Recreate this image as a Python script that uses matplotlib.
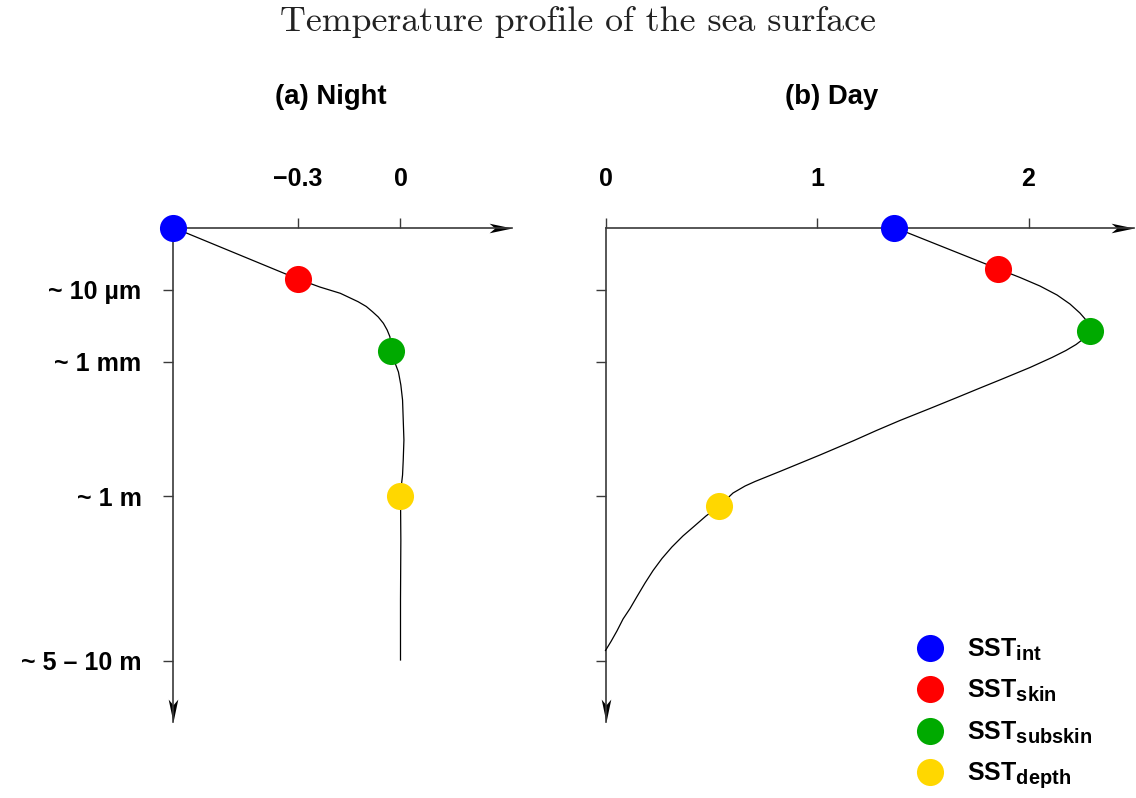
import numpy as np
import matplotlib.pyplot as plt
from matplotlib.path import Path
from matplotlib.markers import MarkerStyle
import matplotlib._mathtext as mathtext_internal

plt.rcParams['font.family'] = ['Liberation Sans', 'DejaVu Sans']
plt.rcParams['font.weight'] = 'bold'
plt.rcParams['mathtext.fontset'] = 'custom'
plt.rcParams['mathtext.rm'] = 'Liberation Sans:bold'
plt.rcParams['mathtext.it'] = 'Liberation Sans:bold'
plt.rcParams['mathtext.bf'] = 'Liberation Sans:bold'
# slightly larger subscripts than the mathtext default
mathtext_internal.SHRINK_FACTOR = 0.8

# depth axis (schematic, not to scale)
depth_ticks = [0.62, 1.34, 2.685, 4.33]
depth_labels = ['~ 10 µm', '~ 1 mm', '~ 1 m', '~ 5 – 10 m']

names = [r'SST$_{\mathrm{int}}$', r'SST$_{\mathrm{skin}}$',
         r'SST$_{\mathrm{subskin}}$', r'SST$_{\mathrm{depth}}$']
colors = ['#0000ff', '#ff0000', '#00aa00', '#ffd700']

# (a) Night: temperature anomaly of each level
night_x = [-0.665, -0.30, -0.029, 0.0]
night_y = [0.0, 0.515, 1.238, 2.685]
night_curve_x = [-0.665, -0.30, -0.236, -0.176, -0.124, -0.100, -0.082, -0.065, -0.050,
                 -0.039, -0.031, -0.029, -0.029, -0.017, -0.006, 0.001, 0.006, 0.008,
                 0.010, 0.008, 0.006, 0.002, 0.0, 0.001, 0.0, 0.0]
night_curve_y = [0.0, 0.515, 0.595, 0.658, 0.742, 0.790, 0.842, 0.895, 0.958,
                 1.025, 1.092, 1.165, 1.238, 1.345, 1.445, 1.575, 1.725, 1.925,
                 2.125, 2.325, 2.475, 2.595, 2.685, 3.125, 3.725, 4.325]
night_ticks = [-0.3, 0]
night_ticklabels = ['\u22120.3', '0']

# (b) Day
day_x = [1.366, 1.854, 2.291, 0.538]
day_y = [0.0, 0.412, 1.032, 2.785]
day_curve_x = [1.366, 1.854, 1.960, 2.054, 2.135, 2.196, 2.243, 2.272, 2.286, 2.291,
               2.262, 2.225, 2.177, 2.111, 2.007, 1.870, 1.771, 1.662, 1.534, 1.392,
               1.281, 1.175, 1.014, 0.830, 0.707, 0.660, 0.603, 0.538, 0.475, 0.418,
               0.366, 0.314, 0.267, 0.225, 0.187, 0.149, 0.116, 0.083, 0.054, 0.026, 0.0]
day_curve_y = [0.0, 0.412, 0.500, 0.585, 0.675, 0.765, 0.855, 0.925, 0.985, 1.032,
               1.110, 1.170, 1.230, 1.300, 1.400, 1.520, 1.605, 1.700, 1.810, 1.930,
               2.030, 2.130, 2.275, 2.435, 2.540, 2.585, 2.655, 2.785, 2.885, 2.990,
               3.085, 3.195, 3.310, 3.430, 3.555, 3.690, 3.810, 3.915, 4.035, 4.140, 4.230]
day_ticks = [0, 1, 2]

W, H = 1136, 798
fig = plt.figure(figsize=(W / 100, H / 100), dpi=100)


def add_axes_px(x0, x1, y0, y1):
    return fig.add_axes([x0 / W, (H - y1) / H, (x1 - x0) / W, (y1 - y0) / H])


# arrow heads as markers, tip at the origin
right_head = MarkerStyle(Path([(0, 0), (-1, 0.21), (-0.75, 0), (-1, -0.21), (0, 0)],
                              [1, 2, 2, 2, 79]))
down_head = MarkerStyle(Path([(0, 0), (0.21, 1), (0, 0.75), (-0.21, 1), (0, 0)],
                             [1, 2, 2, 2, 79]))
axis_col = '#3a3a3a'


def setup(ax, x0, x_tip, y_tip, ticks, ticklabels, ylabels):
    for s in ['right', 'bottom']:
        ax.spines[s].set_visible(False)
    ax.spines['top'].set_position(('data', 0.0))
    ax.spines['top'].set_bounds(x0, x_tip)
    ax.spines['left'].set_position(('data', x0))
    ax.spines['left'].set_bounds(0, y_tip)
    for s in ['top', 'left']:
        ax.spines[s].set_color(axis_col)
        ax.spines[s].set_linewidth(1.2)
    ax.xaxis.set_ticks_position('top')
    ax.set_xticks(ticks)
    ax.set_xticklabels(ticklabels)
    ax.set_yticks(depth_ticks)
    ax.set_yticklabels(depth_labels if ylabels else [])
    ax.tick_params(axis='x', direction='out', length=7.2, width=1.0, color=axis_col,
                   pad=19, labelsize=18)
    ax.tick_params(axis='y', direction='out', length=7.2, width=1.0, color=axis_col,
                   pad=15.5, labelsize=18)
    ax.plot([x_tip], [0], marker=right_head, markersize=33, color='black',
            markeredgewidth=0, clip_on=False)
    ax.plot([x0], [y_tip], marker=down_head, markersize=33, color='black',
            markeredgewidth=0, clip_on=False)
    ax.patch.set_visible(False)


# left panel: 342 px per unit, 0 at x=400.5 px; depth 100 px per unit from y=227.5 px
ax1 = add_axes_px(150, 530, 200, 740)
ax1.set_xlim((150 - 400.5) / 342, (530 - 400.5) / 342)
ax1.set_ylim((740 - 227.5) / 100, (200 - 227.5) / 100)
setup(ax1, night_x[0], 0.325, 4.94, night_ticks, night_ticklabels, True)
ax1.plot(night_curve_x, night_curve_y, color='black', lw=0.9, zorder=3)
for i in range(4):
    ax1.plot(night_x[i], night_y[i], 'o', color=colors[i], markersize=19.5,
             markeredgewidth=0, zorder=4, clip_on=False)

# right panel: 211.5 px per unit, 0 at x=605.5 px
ax2 = add_axes_px(580, 1136, 200, 740)
ax2.set_xlim((580 - 605.5) / 211.5, (1136 - 605.5) / 211.5)
ax2.set_ylim((740 - 227.5) / 100, (200 - 227.5) / 100)
setup(ax2, 0.0, 2.497, 4.94, day_ticks, [str(t) for t in day_ticks], False)
ax2.plot(day_curve_x, day_curve_y, color='black', lw=0.9, zorder=3)
handles = []
for i in range(4):
    h, = ax2.plot(day_x[i], day_y[i], 'o', color=colors[i], markersize=19.5,
                  markeredgewidth=0, zorder=4, clip_on=False, label=names[i])
    handles.append(h)

fig.legend(handles=handles, labels=names, loc='upper left',
           bbox_to_anchor=(917 / W, 1 - 637 / H), frameon=False, fontsize=18,
           handlelength=1.0, handletextpad=1.0, labelspacing=0.6, borderpad=0,
           borderaxespad=0)

fig.text(578 / W, 1 - 22 / H, 'Temperature profile of the sea surface', fontfamily='cmr10',
         fontweight='normal', fontsize=25.8, ha='center', va='center', color='#222222')
fig.text(331 / W, 1 - 97 / H, '(a) Night', fontsize=19.8, ha='center', va='center')
fig.text(832 / W, 1 - 97 / H, '(b) Day', fontsize=19.8, ha='center', va='center')

fig.savefig('out.png', dpi=100)
